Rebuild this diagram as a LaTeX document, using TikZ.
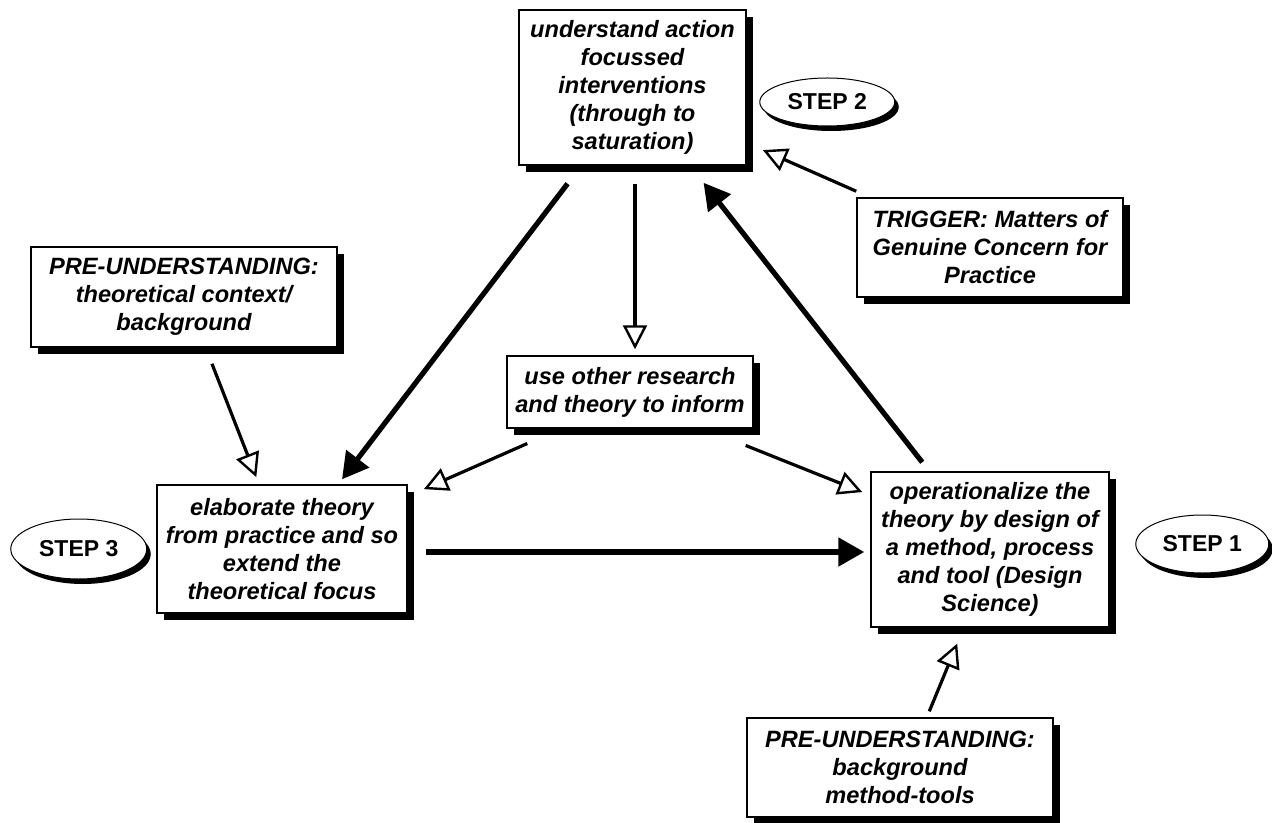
\documentclass[tikz,border=0pt]{standalone}
\usepackage{fontspec}
\setmainfont{Liberation Sans}
\usetikzlibrary{shapes.geometric}
\usetikzlibrary{shadows}
\usetikzlibrary{positioning}
\usetikzlibrary{arrows.meta}
\tikzstyle{stage} = [rectangle,fill=white,draw=black,line width=0.75pt,inner sep=2pt,
align=center, font=\fontsize{11.8}{14}\selectfont\bfseries\itshape,
drop shadow={shadow xshift=3.5pt,shadow yshift=-3.5pt,fill=black,opacity=1}]
\tikzstyle{stepmark} = [ellipse,fill=white,draw=black,line width=0.5pt,inner sep=0pt,
font=\fontsize{11.5}{14}\selectfont\bfseries,
drop shadow={shadow xshift=2pt,shadow yshift=-2.5pt,fill=black,opacity=1}]
\tikzstyle{flow} = [line width=2.6pt, -{Triangle[length=13pt,width=14pt]}]
\tikzstyle{hint} = [line width=1.6pt, -{Triangle[open,length=12pt,width=12pt,line width=1.2pt]}]

\begin{document}
\begin{tikzpicture}[x=0.5pt, y=-0.5pt]
  \useasboundingbox (0,0) rectangle (1272,823);
  \clip (0,0) rectangle (1272,823);

  \node[stage, minimum width=113.5pt, minimum height=77.5pt] (top) at (632.5,87.5)
    {understand action\\ focussed\\ interventions\\ (through to\\ saturation)};
  \node[stage, minimum width=133pt, minimum height=49.5pt] (trigger) at (990,247.5)
    {TRIGGER: Matters of\\ Genuine Concern for\\ Practice};
  \node[stage, minimum width=153pt, minimum height=50pt] (preleft) at (184,297)
    {PRE-UNDERSTANDING:\\ theoretical context/\\ background};
  \node[stage, minimum width=123pt, minimum height=36pt] (use) at (630,392)
    {use other research\\ and theory to inform};
  \node[stage, minimum width=125pt, minimum height=64pt] (elab) at (282,549)
    {elaborate theory\\ from practice and so\\ extend the\\ theoretical focus};
  \node[stage, minimum width=119pt, minimum height=77.5pt] (oper) at (990,549.5)
    {operationalize the\\ theory by design of\\ a method, process\\ and tool (Design\\ Science)};
  \node[stage, minimum width=153pt, minimum height=49.5pt] (prebottom) at (900,767.5)
    {PRE-UNDERSTANDING:\\ background\\ method-tools};

  \node[stepmark, minimum width=67.5pt, minimum height=24pt, right=6.25pt of top, yshift=-7.25pt] (step2) {STEP 2};
  \node[stepmark, minimum width=68pt, minimum height=30pt, left=4.5pt of elab] (step3) {STEP 3};
  \node[stepmark, minimum width=66.5pt, minimum height=29pt, right=12.75pt of oper, yshift=2.75pt] (step1) {STEP 1};

  % main cycle
  \draw[flow, shorten <=11.3pt, shorten >=3.1pt] ([xshift=31.5pt]top.south west) -- ([xshift=91pt]elab.north west);
  \draw[flow, shorten <=9pt, shorten >=3pt] ([yshift=-1.5pt]elab.east) -- ([yshift=-1.5pt]elab.east -| oper.west);
  \draw[flow, shorten <=5.7pt, shorten >=10.8pt] ([xshift=29.5pt]oper.north west) -- ([xshift=86pt]top.south west);

  % inputs
  \draw[hint, shorten <=9pt, shorten >=3pt] ([xshift=1.25pt]top.south) -- ([xshift=1.25pt]top.south |- use.north);
  \draw[hint, shorten >=8.8pt] ([yshift=3pt]trigger.north west) -- ([yshift=-27.75pt]top.east);
  \draw[hint, shorten <=8.6pt, shorten >=3.8pt] ([xshift=10.85pt]preleft.south) -- ([xshift=51.4pt]elab.north west);
  \draw[hint, shorten <=18.3pt, shorten >=8.8pt] ([xshift=27.25pt]use.south west) -- ([yshift=-6pt]elab.north east);
  \draw[hint, shorten <=22.6pt, shorten >=4.3pt] ([xshift=-25pt]use.south east) -- ([yshift=-12pt]oper.north west);
  \draw[hint, shorten <=3.2pt, shorten >=8.6pt] ([xshift=90.3pt]prebottom.north west) -- ([xshift=46.75pt]oper.south west);
\end{tikzpicture}
\end{document}
